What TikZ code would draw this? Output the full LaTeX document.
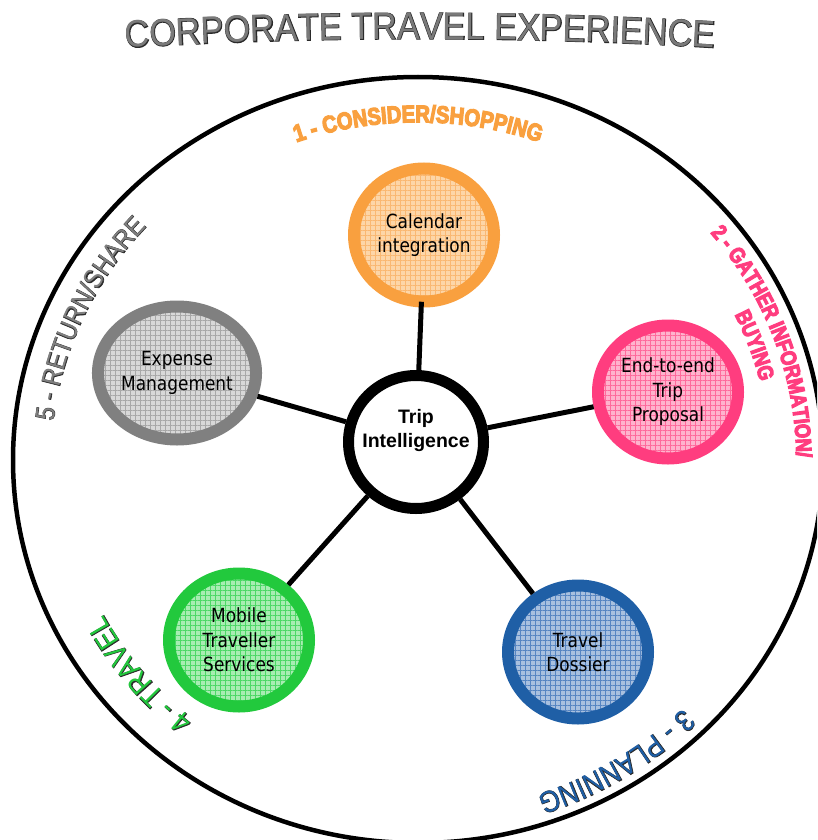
\documentclass[tikz,border=0pt]{standalone}
\usepackage{fontspec}
\usetikzlibrary{shapes.geometric,decorations.text,patterns.meta,calc}
\setmainfont{Liberation Sans}
\newfontfamily\ArialF{Liberation Sans}
\newfontfamily\ArialBF{Liberation Sans Bold}
\newfontfamily\CondF[FakeStretch=0.87]{Liberation Sans}
\newfontfamily\CondHB[FakeStretch=0.84,FakeBold=5]{Liberation Sans Bold}
\newfontfamily\CondOL[FakeStretch=0.87,FakeBold=2.4]{Liberation Sans}
\newfontfamily\TitleF[FakeStretch=0.9]{Liberation Sans}
\newfontfamily\TitleOL[FakeStretch=0.9,FakeBold=2.6]{Liberation Sans}
\newfontfamily\NodeF[FakeStretch=0.87]{DejaVu Sans}
\newcommand\fTitle{\TitleF\fontsize{38}{40}\selectfont}
\newcommand\fTitleOL{\TitleOL\fontsize{38}{40}\selectfont}
\newcommand\fOr{\CondHB\fontsize{24}{25}\selectfont}
\newcommand\fPk{\CondHB\fontsize{22}{25}\selectfont}
\newcommand\fGy{\CondF\fontsize{27}{29}\selectfont}
\newcommand\fGyOL{\CondOL\fontsize{27}{29}\selectfont}
\newcommand\fBig{\CondF\fontsize{30}{32}\selectfont}
\newcommand\fBigOL{\CondOL\fontsize{30}{32}\selectfont}
\definecolor{orB}{HTML}{F9A03F}
\definecolor{orL}{HTML}{FDD6A8}
\definecolor{orG}{HTML}{FAB872}
\definecolor{pkB}{HTML}{FF3D7F}
\definecolor{pkL}{HTML}{FFB3CD}
\definecolor{pkG}{HTML}{FF6A9C}
\definecolor{blB}{HTML}{1F5FA6}
\definecolor{blL}{HTML}{A8C0DF}
\definecolor{blG}{HTML}{5685C2}
\definecolor{gnB}{HTML}{22C93D}
\definecolor{gnL}{HTML}{A8EDB2}
\definecolor{gnG}{HTML}{4CD866}
\definecolor{gyB}{HTML}{808080}
\definecolor{gyL}{HTML}{D8D8D8}
\definecolor{gyG}{HTML}{A8A8A8}
\definecolor{ttl}{HTML}{7A7A7A}
\definecolor{olc}{HTML}{2A2A2A}
% #1 font, #2 colour, #3 text, #4 start angle, #5 end angle, #6 x radius, #7 y radius
\newcommand\arctext[7]{%
  \path[decorate, decoration={text along path, text align=center, text color=#2, text={|#1|#3}}]
    ($(C)+(#4:#6 and #7)$) arc[start angle=#4, end angle=#5, x radius=#6, y radius=#7];}
\begin{document}
\begin{tikzpicture}[x=1pt,y=-1pt,
  phase/.style={ellipse, minimum width=140pt, minimum height=133pt, inner sep=0pt,
    line width=12pt, draw=#1B, preaction={fill=#1L},
    pattern={Hatch[distance=5pt,line width=0.6pt]}, pattern color=#1G,
    font=\NodeF\fontsize{19.5}{24.5}\selectfont, align=center, text=black},
  hub/.style={ellipse, minimum width=135pt, minimum height=133pt, inner sep=0pt,
    line width=11pt, draw=black, fill=white},
  hubtext/.style={font=\ArialBF\fontsize{19.5}{24}\selectfont, align=center, text=black},
  spoke/.style={line width=5pt, draw=black}]
\useasboundingbox (0,0) rectangle (817,840);
\clip (0,0) rectangle (817,840);
\fill[white] (0,0) rectangle (817,840);
\coordinate (C) at (418,460);
\draw[line width=4.5pt] (C) ellipse [x radius=405, y radius=383];

% title
\coordinate (T) at (420,4956);
\path[decorate, decoration={text along path, text align=center, text color=olc, text={|\fTitleOL|CORPORATE TRAVEL EXPERIENCE}}]
  ($(T)+(-95:4917)$) arc[start angle=-95, end angle=-85, radius=4917];
\path[decorate, decoration={text along path, text align=center, text color=ttl, text={|\fTitle|CORPORATE TRAVEL EXPERIENCE}}]
  ($(T)+(-95:4917)$) arc[start angle=-95, end angle=-85, radius=4917];

% nodes
\node[hub] (ti) at (416,442) {};
\node[phase=or] (cal) at (424,235) {Calendar\\integration};
\node[phase=gy] (exp) at (177,373) {Expense\\Management};
\node[phase=pk] (prop) at (668,392) {End-to-end\\Trip\\Proposal};
\node[phase=bl] (dos) at (578,652) {Travel\\Dossier};
\node[phase=gn] (mob) at (239,640) {Mobile\\Traveller\\Services};
\node[hubtext] (tit) at ([yshift=12pt]ti.center) {Trip\\Intelligence};

\draw[spoke] (ti) -- (cal);
\draw[spoke] (ti) -- (exp);
\draw[spoke] (ti) -- (prop);
\draw[spoke] (ti) -- (dos);
\draw[spoke] (ti) -- (mob);

% phase labels
\arctext{\fOr}{orB}{1 - CONSIDER/SHOPPING}{-135}{-45}{357.2}{337.8}
\arctext{\fPk}{pkB}{2 - GATHER INFORMATION/}{-65}{26}{378.3}{357.7}
\arctext{\fPk}{pkB}{BUYING}{-50}{11}{351.9}{332.8}
\arctext{\fBigOL}{olc}{3 - PLANNING}{15}{100}{373.4}{353.1}
\arctext{\fBig}{blB}{3 - PLANNING}{15}{100}{373.4}{353.1}
\arctext{\fBigOL}{olc}{4 - TRAVEL}{100}{183}{354.4}{335.1}
\arctext{\fBig}{gnB}{4 - TRAVEL}{100}{183}{354.4}{335.1}
\arctext{\fGyOL}{olc}{5 - RETURN/SHARE}{165}{243}{366.5}{346.6}
\arctext{\fGy}{gyB}{5 - RETURN/SHARE}{165}{243}{366.5}{346.6}
\end{tikzpicture}
\end{document}
